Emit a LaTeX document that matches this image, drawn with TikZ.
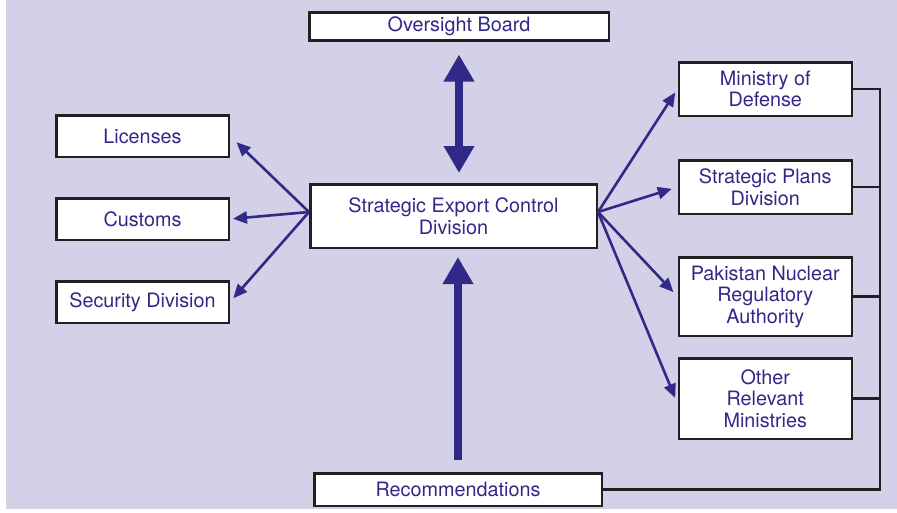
\documentclass[tikz,border=0pt]{standalone}
\usepackage{fontspec}
\setmainfont{TeX Gyre Heros}
\usepackage{tikz}
\usetikzlibrary{positioning, arrows.meta}

\definecolor{panel}{RGB}{211,208,231}
\definecolor{navy}{RGB}{49,41,136}
\definecolor{edge}{RGB}{35,31,32}

\begin{document}
\begin{tikzpicture}[
            x=1pt, y=1pt,
            box/.style={rectangle, draw=edge, line width=2.5pt, fill=white, text=navy, align=center,
                        inner sep=2pt, font=\fontsize{19.8}{21.5}\selectfont},
            sidebox/.style={box, minimum width=172.5pt, minimum height=41.5pt},
            rightbox/.style={box, minimum width=173pt},
            arrow/.style={-{Triangle[length=14pt, width=12pt]}, line width=2.6pt, navy},
            bigarrow/.style={-{Triangle[length=27pt, width=29pt]}, line width=8pt, navy},
            bigboth/.style={{Triangle[length=27pt, width=29pt]}-{Triangle[length=27pt, width=29pt]}, line width=8pt, navy},
            link/.style={line width=2.5pt, edge}
        ]
        % Background panel
        \useasboundingbox (0,0) rectangle (897,-512);
        \fill[panel] (6,0) rectangle (897,-509);

        % Central division and the boards around it
        \node[box, minimum width=286.5pt, minimum height=63.5pt] (secd) at (453.5,-216) {Strategic Export Control\\Division};
        \node[box, minimum width=299.5pt, minimum height=28pt, above=141.5pt of secd, xshift=5.5pt] (oversight) {Oversight Board};
        \node[box, minimum width=287.5pt, minimum height=32.5pt, below=223pt of secd, xshift=4.5pt] (recs) {Recommendations};

        % Left column
        \node[sidebox, left=79pt of secd, yshift=-3pt] (customs) {Customs};
        \node[sidebox, above=39pt of customs] (licenses) {Licenses};
        \node[sidebox, below=39pt of customs] (security) {Security Division};

        % Right column
        \node[rightbox, minimum height=53.5pt, right=79.5pt of secd, yshift=127pt] (ministry) {Ministry of\\Defense};
        \node[rightbox, minimum height=53.5pt, below=42pt of ministry] (plans) {Strategic Plans\\Division};
        \node[rightbox, minimum height=78.5pt, below=41pt of plans] (pnra) {Pakistan Nuclear\\Regulatory\\Authority};
        \node[rightbox, minimum height=80.5pt, below=20pt of pnra] (other) {Other\\Relevant\\Ministries};

        % Thick arrows
        \draw[bigboth, shorten <=13pt, shorten >=10pt] (oversight.south) -- (oversight.south |- secd.north);
        \draw[bigarrow, shorten <=12pt, shorten >=8pt] (recs.north) -- (recs.north |- secd.south);

        % Thin arrows out of the division
        \draw[arrow, shorten >=9pt] ([yshift=4pt]secd.west) -- (licenses.east);
        \draw[arrow, shorten >=3pt] ([yshift=4pt]secd.west) -- (customs.east);
        \draw[arrow, shorten >=5pt] ([yshift=4pt]secd.west) -- (security.east);
        \draw[arrow, shorten >=4pt] ([yshift=4pt]secd.east) -- (ministry.west);
        \draw[arrow, shorten >=6pt] ([yshift=4pt]secd.east) -- (plans.west);
        \draw[arrow, shorten >=6pt] ([yshift=4pt]secd.east) -- (pnra.west);
        \draw[arrow, shorten >=6pt] ([yshift=4pt]secd.east) -- ([yshift=-5pt]other.west);

        % Feedback bracket back to the recommendations
        \coordinate (bus) at (880,0);
        \draw[link] (ministry.east) -- (ministry.east -| bus) -- (recs.east -| bus) -- (recs.east);
        \foreach \n in {plans, pnra, other}
            \draw[link] (\n.east) -- (\n.east -| bus);
    \end{tikzpicture}
\end{document}
